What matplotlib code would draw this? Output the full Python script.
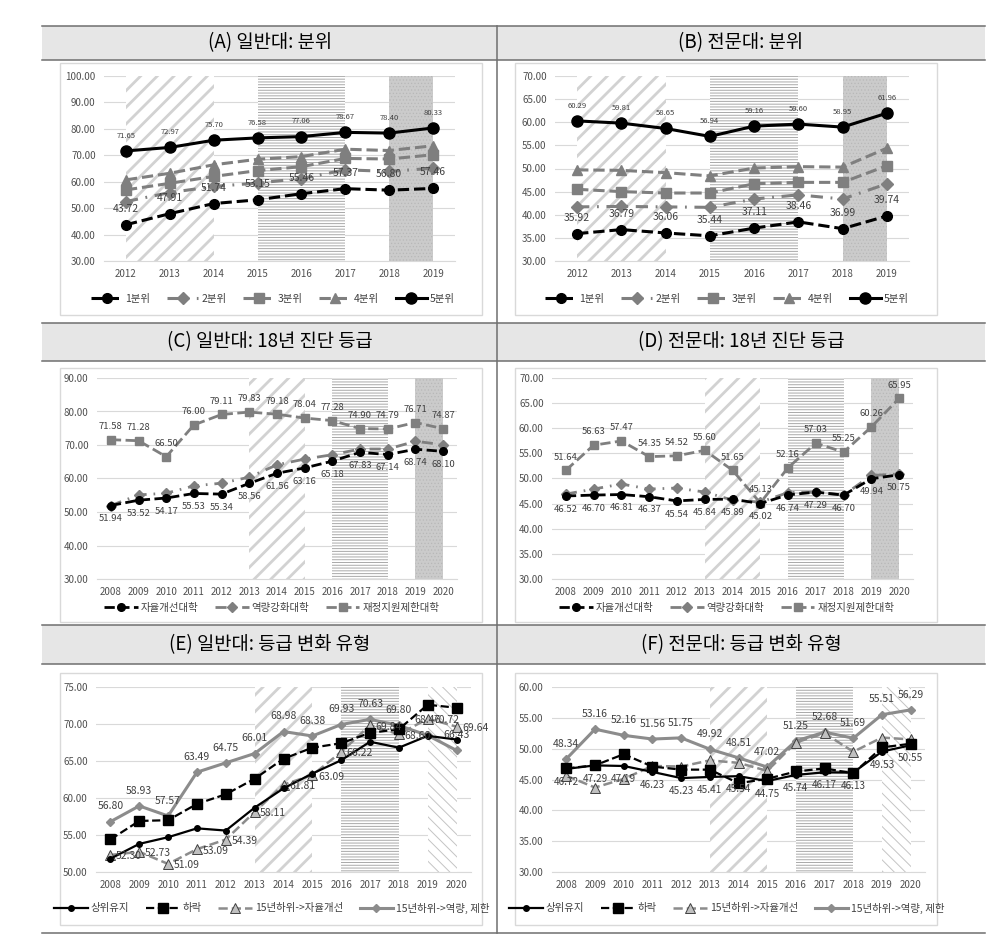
import matplotlib
matplotlib.use('Agg')
import matplotlib.pyplot as plt
from matplotlib.lines import Line2D
from matplotlib.patches import Rectangle

plt.rcParams['font.family'] = ['Noto Sans CJK KR', 'DejaVu Sans']

# ---- data ----
years_ab = [2012, 2013, 2014, 2015, 2016, 2017, 2018, 2019]
quint_names = ['1분위', '2분위', '3분위', '4분위', '5분위']

a_q1 = [43.72, 47.91, 51.74, 53.15, 55.46, 57.37, 56.80, 57.46]
a_q2 = [52.5, 55.9, 58.2, 59.5, 61.2, 64.5, 63.9, 65.1]
a_q3 = [56.9, 59.4, 62.0, 64.2, 65.7, 68.8, 68.6, 70.2]
a_q4 = [60.7, 63.2, 66.4, 68.5, 69.5, 72.3, 71.8, 73.6]
a_q5 = [71.65, 72.97, 75.70, 76.58, 77.06, 78.67, 78.40, 80.33]

b_q1 = [35.92, 36.79, 36.06, 35.44, 37.11, 38.46, 36.99, 39.74]
b_q2 = [41.7, 41.8, 41.7, 41.6, 43.4, 44.3, 43.4, 46.7]
b_q3 = [45.5, 45.0, 44.7, 44.7, 46.7, 47.0, 47.0, 50.6]
b_q4 = [49.7, 49.6, 49.1, 48.4, 50.1, 50.4, 50.3, 54.4]
b_q5 = [60.29, 59.81, 58.65, 56.94, 59.16, 59.60, 58.95, 61.96]

years_cf = list(range(2008, 2021))
grade_names = ['자율개선대학', '역량강화대학', '재정지원제한대학']

c_self = [51.94, 53.52, 54.17, 55.53, 55.34, 58.56, 61.56, 63.16, 65.18, 67.83, 67.14, 68.74, 68.10]
c_cap = [51.9, 55.1, 55.6, 57.8, 58.6, 60.4, 64.1, 65.8, 67.1, 68.8, 68.8, 71.1, 70.1]
c_limit = [71.58, 71.28, 66.50, 76.00, 79.11, 79.83, 79.18, 78.04, 77.28, 74.90, 74.79, 76.71, 74.87]

d_self = [46.52, 46.70, 46.81, 46.37, 45.54, 45.84, 45.89, 45.02, 46.74, 47.29, 46.70, 49.94, 50.75]
d_cap = [46.9, 47.9, 48.9, 47.9, 48.1, 47.3, 45.7, 45.3, 47.2, 47.3, 46.7, 50.6, 50.9]
d_limit = [51.64, 56.63, 57.47, 54.35, 54.52, 55.60, 51.65, 45.13, 52.16, 57.03, 55.25, 60.26, 65.95]

change_names = ['상위유지', '하락', '15년하위->자율개선', '15년하위->역량, 제한']

e_keep = [51.8, 53.8, 54.7, 55.9, 55.6, 58.7, 61.3, 63.3, 65.1, 67.6, 66.8, 68.4, 67.9]
e_down = [54.4, 56.9, 57.0, 59.2, 60.5, 62.6, 65.3, 66.8, 67.4, 68.8, 69.3, 72.6, 72.2]
e_self = [52.30, 52.73, 51.09, 53.09, 54.39, 58.11, 61.81, 63.09, 66.22, 69.84, 68.60, 70.72, 69.64]
e_cap = [56.80, 58.93, 57.57, 63.49, 64.75, 66.01, 68.98, 68.38, 69.93, 70.63, 69.80, 68.46, 66.43]

f_keep = [46.72, 47.29, 47.19, 46.23, 45.23, 45.41, 45.54, 44.75, 45.74, 46.17, 46.13, 49.53, 50.55]
f_down = [46.8, 47.3, 49.1, 47.1, 46.6, 46.6, 44.4, 45.1, 46.3, 46.8, 46.0, 50.2, 50.8]
f_self = [45.6, 43.7, 45.1, 47.2, 47.1, 48.1, 47.7, 46.4, 51.0, 52.5, 49.5, 51.8, 51.5]
f_cap = [48.34, 53.16, 52.16, 51.56, 51.75, 49.92, 48.51, 47.02, 51.25, 52.68, 51.69, 55.51, 56.29]

bands_ab = [(2012, 2014, 'diag'), (2015, 2017, 'horiz'), (2018, 2019, 'dots')]
bands_cd = [(2013, 2015, 'diag'), (2016, 2018, 'horiz'), (2019, 2020, 'dots')]
bands_ef = [(2013, 2015, 'diag'), (2016, 2018, 'horiz'), (2019, 2020, 'light')]

titles = ['(A) 일반대: 분위', '(B) 전문대: 분위', '(C) 일반대: 18년 진단 등급',
          '(D) 전문대: 18년 진단 등급', '(E) 일반대: 등급 변화 유형', '(F) 전문대: 등급 변화 유형']

# ---- figure / table frame ----
W, H = 988, 952
fig = plt.figure(figsize=(W / 100, H / 100), dpi=100)


def box(l, t, r, b):
    return [l / W, 1 - b / H, (r - l) / W, (b - t) / H]


def fx(x):
    return x / W


def fy(y):
    return 1 - y / H


title_rows = [(26, 60), (323, 361), (625, 664)]
for (t, b) in title_rows:
    fig.patches.append(Rectangle((fx(42), fy(b)), fx(985) - fx(42), fy(t) - fy(b),
                                 transform=fig.transFigure, facecolor='#e6e6e6',
                                 edgecolor='none', zorder=-3))
for y in [26, 60, 323, 361, 625, 664, 933]:
    fig.lines.append(Line2D([fx(42), fx(985)], [fy(y), fy(y)], transform=fig.transFigure,
                            color='#6f6f6f', lw=1.1, zorder=-1))
fig.lines.append(Line2D([fx(497), fx(497)], [fy(26), fy(933)], transform=fig.transFigure,
                        color='#6f6f6f', lw=1.1, zorder=-1))

centers = [270, 741]
for i, (t, b) in enumerate(title_rows):
    for j in range(2):
        fig.text(fx(centers[j]), fy((t + b) / 2), titles[i * 2 + j], ha='center', va='center',
                 fontsize=13.5, color='#000000', fontweight='medium')

frames = [(60, 63, 482, 315), (515, 63, 937, 315), (60, 368, 482, 622),
          (515, 368, 937, 622), (60, 673, 482, 925), (515, 673, 937, 925)]
for (l, t, r, b) in frames:
    fig.patches.append(Rectangle((fx(l), fy(b)), fx(r) - fx(l), fy(t) - fy(b),
                                 transform=fig.transFigure, facecolor='white',
                                 edgecolor='#d9d9d9', lw=1, zorder=-2))

band_styles = {
    'diag': dict(facecolor='white', edgecolor='#d2d2d2', hatch='//', hlw=2.0),
    'horiz': dict(facecolor='white', edgecolor='#a9a9a9', hatch='------', hlw=0.7),
    'dots': dict(facecolor='#cbcbcb', edgecolor='#b8b8b8', hatch='.....', hlw=0.5),
    'light': dict(facecolor='white', edgecolor='#c4c4c4', hatch='\\\\\\', hlw=0.7),
}


def add_bands(ax, bands):
    for (x0, x1, kind) in bands:
        st = band_styles[kind]
        with plt.rc_context({'hatch.linewidth': st['hlw']}):
            p = ax.axvspan(x0, x1, facecolor=st['facecolor'], edgecolor=st['edgecolor'],
                           hatch=st['hatch'], linewidth=0, zorder=1)
            if hasattr(p, 'set_hatch_linewidth'):
                p.set_hatch_linewidth(st['hlw'])


def setup(ax, years, lo, hi, step):
    ax.set_xlim(years[0] - 0.5, years[-1] + 0.5)
    ax.set_ylim(lo, hi)
    ticks = [lo + k * step for k in range(int(round((hi - lo) / step)) + 1)]
    ax.set_yticks(ticks)
    ax.set_yticklabels([f'{v:.2f}' for v in ticks])
    ax.set_xticks(years)
    ax.set_xticklabels([str(y) for y in years])
    ax.grid(axis='y', color='#d9d9d9', lw=0.8)
    ax.set_axisbelow(True)
    for s in ['top', 'right', 'left']:
        ax.spines[s].set_visible(False)
    ax.spines['bottom'].set_color('#d9d9d9')
    ax.tick_params(length=0, labelsize=7, labelcolor='#505050', pad=6)
    ax.patch.set_alpha(0)


def labels(ax, xs, ys, dy, size, dx=0, ha='center'):
    for x, y in zip(xs, ys):
        ax.annotate(f'{y:.2f}', (x, y), xytext=(dx, dy), textcoords='offset points',
                    ha=ha, va='center', fontsize=size, color='#404040', zorder=6)


def legend(handles, names, cx, cy, ncol, hl):
    fig.legend(handles, names, loc='center', bbox_to_anchor=(fx(cx), fy(cy)), ncol=ncol,
               frameon=False, fontsize=7.5, handlelength=hl, columnspacing=1.6,
               handletextpad=0.3, labelcolor='#404040')


GRAY = '#7f7f7f'
dashdot = (0, (4, 2.5, 0.6, 2.5))

# ---- A / B ----
for k, (rect, data, lo, hi, step, lcx) in enumerate([
        ((104, 76, 455, 261), [a_q1, a_q2, a_q3, a_q4, a_q5], 30, 100, 10, 273),
        ((555, 76, 909, 261), [b_q1, b_q2, b_q3, b_q4, b_q5], 30, 70, 5, 727)]):
    ax = fig.add_axes(box(*rect))
    setup(ax, years_ab, lo, hi, step)
    add_bands(ax, bands_ab)
    q1, q2, q3, q4, q5 = data
    h = []
    h += ax.plot(years_ab, q1, color='black', ls='--', lw=2.2, marker='o', ms=7, zorder=4)
    h += ax.plot(years_ab, q2, color=GRAY, ls=dashdot, lw=2.2, marker='D', ms=6, zorder=3)
    h += ax.plot(years_ab, q3, color=GRAY, ls='--', lw=2.2, marker='s', ms=7, zorder=3)
    h += ax.plot(years_ab, q4, color=GRAY, ls='--', lw=2.2, marker='^', ms=7, zorder=3)
    h += ax.plot(years_ab, q5, color='black', ls='-', lw=2.2, marker='o', ms=8, zorder=4)
    labels(ax, years_ab, q1, 11.5, 7.5)
    labels(ax, years_ab, q5, 11, 5.5)
    legend(h, quint_names, lcx, 299, 5, 3.0)

# ---- C / D ----
for rect, data, lo, hi, step, lcx in [
        ((97, 378, 457, 579), [c_self, c_cap, c_limit], 30, 90, 10, 272),
        ((552, 378, 913, 579), [d_self, d_cap, d_limit], 30, 70, 5, 727)]:
    ax = fig.add_axes(box(*rect))
    setup(ax, years_cf, lo, hi, step)
    add_bands(ax, bands_cd)
    s1, s2, s3 = data
    h = []
    h += ax.plot(years_cf, s1, color='black', ls='--', lw=2.0, marker='o', ms=5.5, zorder=4)
    h += ax.plot(years_cf, s2, color=GRAY, ls=dashdot, lw=2.0, marker='D', ms=5, zorder=3)
    h += ax.plot(years_cf, s3, color=GRAY, ls='--', lw=2.0, marker='s', ms=5.5, zorder=3)
    labels(ax, years_cf, s1, -9.5, 6.8)
    labels(ax, years_cf, s3, 9.5, 6.8)
    legend(h, grade_names, lcx, 608, 3, 3.2)

# ---- E / F ----
for rect, data, lo, hi, step, lcx, which in [
        ((96, 687, 471, 872), [e_keep, e_down, e_self, e_cap], 50, 75, 5, 272, 'E'),
        ((552, 687, 925, 872), [f_keep, f_down, f_self, f_cap], 30, 60, 5, 727, 'F')]:
    ax = fig.add_axes(box(*rect))
    setup(ax, years_cf, lo, hi, step)
    add_bands(ax, bands_ef)
    s1, s2, s3, s4 = data
    h = []
    h += ax.plot(years_cf, s4, color='#8c8c8c', ls='-', lw=2.2, marker='D', ms=4.5, zorder=3)
    h += ax.plot(years_cf, s3, color='#8c8c8c', ls='--', lw=1.8, marker='^', ms=6.5,
                 mfc='#c0c0c0', mec='#404040', mew=0.7, zorder=3)
    h += ax.plot(years_cf, s2, color='black', ls='--', lw=1.6, marker='s', ms=6.5, zorder=4)
    h += ax.plot(years_cf, s1, color='black', ls='-', lw=1.6, marker='o', ms=4, zorder=4)
    if which == 'E':
        labels(ax, years_cf, s3, -1, 7.5, dx=4, ha='left')
    else:
        labels(ax, years_cf, s1, -9.5, 7.2)
    labels(ax, years_cf, s4, 11, 7.5)
    legend(h[::-1], change_names, lcx, 908, 4, 3.2)

fig.savefig('out.png', dpi=100)
